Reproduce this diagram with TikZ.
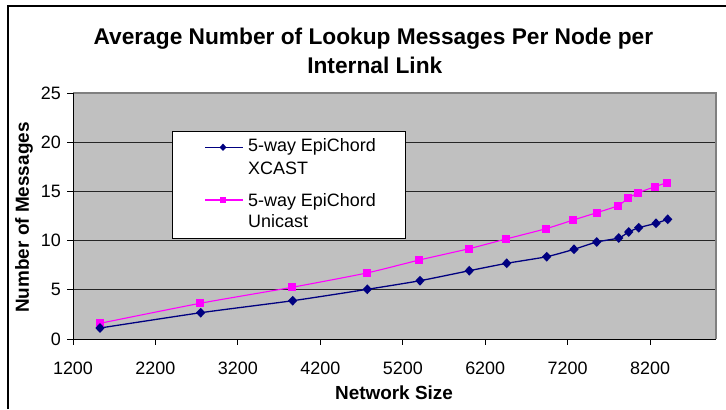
\documentclass[tikz,border=0pt]{standalone}
\usepackage{fontspec}
\setmainfont{Liberation Sans}
\usetikzlibrary{shapes.geometric}
\definecolor{navyc}{HTML}{000080}
\definecolor{magc}{HTML}{FF00FF}
\definecolor{plotgray}{HTML}{C0C0C0}
\definecolor{bordergray}{HTML}{808080}
\begin{document}
\begin{tikzpicture}[x=1bp,y=-1bp,
  lbl/.style={font=\fontsize{18}{21}\selectfont, inner sep=0pt},
  boldlbl/.style={font=\bfseries\fontsize{19}{22}\selectfont, inner sep=0pt},
  titlelbl/.style={font=\bfseries\fontsize{22.8}{26}\selectfont, inner sep=0pt},
  grid line/.style={draw=black!85, line width=0.8bp},
  axis line/.style={draw=black, line width=1bp},
  bmark/.style={diamond, fill=navyc, inner sep=0pt, minimum width=9.5bp, minimum height=10bp},
  pmark/.style={rectangle, fill=magc, inner sep=0pt, minimum size=8bp},
  bline/.style={draw=navyc, line width=1.3bp},
  pline/.style={draw=magc, line width=1.1bp}]
\useasboundingbox (0,0) rectangle (726,409);
% outer chart border (cut at right and bottom)
\draw[line width=1.6bp] (8,409) -- (8,6) -- (726,6);
% title
\node[titlelbl, anchor=base] (t1) at (373.4,44) {Average Number of Lookup Messages Per Node per};
\node[titlelbl, anchor=base] (t2) at (374.8,73.3) {Internal Link};
% plot area
\fill[plotgray] (73,93) rectangle (716,339);
\foreach \yy in {289.8,240.6,191.4,142.2} \draw[grid line] (73,\yy) -- (716,\yy);
\draw[draw=bordergray, line width=1.5bp] (73,93) -- (716,93) -- (716,339);
\draw[axis line] (73,93) -- (73,339) -- (716,339);
% y ticks and labels
\foreach \v/\yy in {0/339,5/289.8,10/240.6,15/191.4,20/142.2,25/93} {
  \draw[axis line] (67,\yy) -- (73,\yy);
  \node[lbl, anchor=east] (y\v) at (61,\yy) {\v};
}
% x ticks and labels
\foreach \v/\xx in {1200/73,2200/155.4,3200/237.9,4200/320.3,5200/402.8,6200/485.2,7200/567.6,8200/650.1} {
  \draw[axis line] (\xx,339) -- (\xx,345);
  \node[lbl] (x\v) at (\xx,368) {\v};
}
% axis titles
\node[boldlbl, rotate=90] (ytitle) at (24,217.5) {Number of Messages};
\node[boldlbl, anchor=base] (xtitle) at (394,399.3) {Network Size};
% data: Unicast
\draw[pline] plot[smooth, tension=0.35] coordinates {(100,323.3) (200,303.3) (292,287.3) (366.7,273) (419.3,260) (469,248.7) (506,239) (546,228.7) (573.3,220) (596.7,212.7) (618,205.7) (628,198.3) (638.3,192.7) (655,186.7) (666.7,182.7)};
% data: XCAST
\draw[bline] plot[smooth, tension=0.35] coordinates {(100,328) (200.7,312.7) (292.7,300.7) (367.3,289.3) (420,280.7) (469.3,270.7) (506.7,263.3) (546.7,256.7) (574,249.3) (596.7,242) (618.7,238) (628.7,232) (638.7,227.7) (656,223.3) (667.7,219.3)};
\foreach \p [count=\i] in {(100,323.3),(200,303.3),(292,287.3),(366.7,273),(419.3,260),(469,248.7),(506,239),(546,228.7),(573.3,220),(596.7,212.7),(618,205.7),(628,198.3),(638.3,192.7),(655,186.7),(666.7,182.7)}
  \node[pmark] (pm\i) at \p {};
\foreach \p [count=\i] in {(100,328),(200.7,312.7),(292.7,300.7),(367.3,289.3),(420,280.7),(469.3,270.7),(506.7,263.3),(546.7,256.7),(574,249.3),(596.7,242),(618.7,238),(628.7,232),(638.7,227.7),(656,223.3),(667.7,219.3)}
  \node[bmark] (bm\i) at \p {};
% legend
\draw[fill=white, draw=black, line width=1bp] (172.3,131.7) rectangle (405,238.3);
\coordinate (la1) at (205,147.3);
\coordinate (lb1) at (243,147.3);
\coordinate (la2) at (205,200);
\coordinate (lb2) at (243,200);
\draw[bline, line width=1.1bp] (la1) -- (lb1);
\node[bmark, minimum width=7bp, minimum height=7.5bp] (lm1) at (223,147.3) {};
\draw[pline] (la2) -- (lb2);
\node[pmark, minimum size=6.5bp] (lm2) at (223,200) {};
\node[lbl, anchor=base west] (l1a) at (248,151.7) {5-way EpiChord};
\node[lbl, anchor=base west] (l1b) at (248,174) {XCAST};
\node[lbl, anchor=base west] (l2a) at (248,206) {5-way EpiChord};
\node[lbl, anchor=base west] (l2b) at (248,227.3) {Unicast};
\end{tikzpicture}
\end{document}
